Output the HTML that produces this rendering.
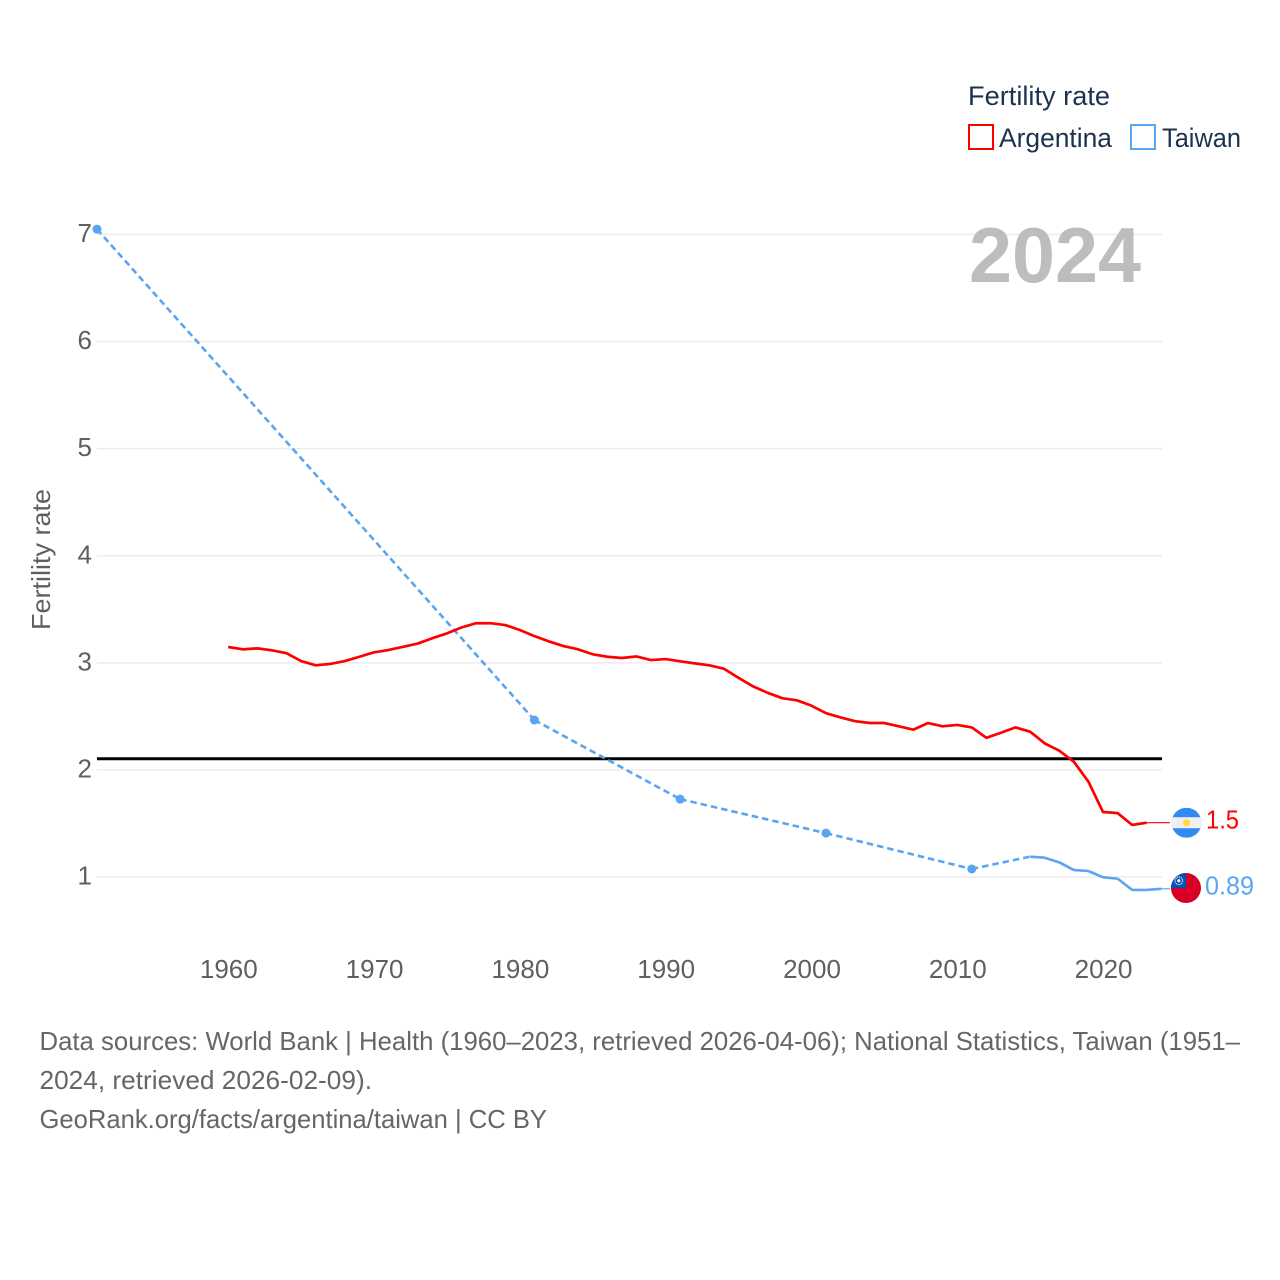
<!DOCTYPE html>
<html lang="en">
<head>
<meta charset="utf-8">
<title>Fertility rate: Argentina and Taiwan</title>
<style>
html,body{margin:0;padding:0;background:#fff;width:1280px;height:1280px;overflow:hidden}
svg{display:block;font-family:"Liberation Sans",sans-serif}
.tick{font-size:26px;fill:#5f5f5f}
.note{font-size:26px;fill:#666}
.leg{font-size:27px;fill:#1d3250}
</style>
</head>
<body>
<svg id="chart" width="1280" height="1280" viewBox="0 0 1280 1280" xmlns="http://www.w3.org/2000/svg">
  <rect x="0" y="0" width="1280" height="1280" fill="#fff"/>
  <defs>
    <clipPath id="flag-clip-ar"><circle id="clip-ar" cx="0" cy="0" r="15"/></clipPath>
    <clipPath id="flag-clip-tw"><circle id="clip-tw" cx="0" cy="0" r="15"/></clipPath>
  </defs>
  <g id="grid"></g>
  <g id="yticks"></g>
  <g id="xticks"></g>
  <text x="969" y="282" font-size="78" font-weight="700" fill="#bdbdbd" textLength="172" lengthAdjust="spacingAndGlyphs">2024</text>
  <text transform="translate(50,630) rotate(-90)" font-size="26" fill="#5f5f5f" textLength="141" lengthAdjust="spacingAndGlyphs">Fertility rate</text>
  <line id="refline" stroke="#000" stroke-width="3"/>
  <g id="series"></g>

  <g id="flag-ar">
    <g clip-path="url(#flag-clip-ar)">
      <rect x="-15" y="-15" width="30" height="30" fill="#338af3"/>
      <rect x="-15" y="-5.5" width="30" height="11" fill="#f0f0f0"/>
      <circle cx="0" cy="0" r="3.6" fill="#ffda44"/>
    </g>
  </g>
  <g id="flag-tw">
    <g clip-path="url(#flag-clip-tw)">
      <rect x="-15" y="-15" width="30" height="30" fill="#d80027"/>
      <rect x="-15" y="-15" width="15" height="15" fill="#0052b4"/>
      <circle cx="-7.2" cy="-7.2" r="3.8" fill="none" stroke="#f0f0f0" stroke-width="1.2" stroke-dasharray="1.2 0.8"/>
      <circle cx="-7.2" cy="-7.2" r="1.6" fill="#f0f0f0"/>
    </g>
  </g>
  <text id="label-ar" font-size="26" fill="#ff0000" textLength="33" lengthAdjust="spacingAndGlyphs">1.5</text>
  <text id="label-tw" font-size="26" fill="#5aa5f0" textLength="49" lengthAdjust="spacingAndGlyphs">0.89</text>

  <g>
    <text class="leg" x="968" y="105" textLength="142" lengthAdjust="spacingAndGlyphs">Fertility rate</text>
    <rect x="969" y="125" width="24" height="24" fill="#fff" stroke="#ff0000" stroke-width="2"/>
    <text class="leg" x="999" y="147" textLength="113" lengthAdjust="spacingAndGlyphs">Argentina</text>
    <rect x="1131" y="125" width="24" height="24" fill="#fff" stroke="#5aa5f0" stroke-width="2"/>
    <text class="leg" x="1162" y="147" textLength="79" lengthAdjust="spacingAndGlyphs">Taiwan</text>
  </g>

  <g>
    <text class="note" x="39.5" y="1050" textLength="1200.5" lengthAdjust="spacingAndGlyphs">Data sources: World Bank | Health (1960–2023, retrieved 2026-04-06); National Statistics, Taiwan (1951–</text>
    <text class="note" x="39.5" y="1089" textLength="332.5" lengthAdjust="spacingAndGlyphs">2024, retrieved 2026-02-09).</text>
    <text class="note" x="39.5" y="1128" textLength="507.5" lengthAdjust="spacingAndGlyphs">GeoRank.org/facts/argentina/taiwan | CC BY</text>
  </g>
</svg>
<script>
const xTickYears = [1960, 1970, 1980, 1990, 2000, 2010, 2020];
const yTickValues = [1, 2, 3, 4, 5, 6, 7];
const replacementLevel = 2.1;
const argentinaYears = [1960,1961,1962,1963,1964,1965,1966,1967,1968,1969,1970,1971,1972,1973,1974,1975,1976,1977,1978,1979,1980,1981,1982,1983,1984,1985,1986,1987,1988,1989,1990,1991,1992,1993,1994,1995,1996,1997,1998,1999,2000,2001,2002,2003,2004,2005,2006,2007,2008,2009,2010,2011,2012,2013,2014,2015,2016,2017,2018,2019,2020,2021,2022,2023];
const argentinaValues = [3.148,3.126,3.135,3.117,3.09,3.017,2.977,2.99,3.017,3.057,3.098,3.12,3.15,3.18,3.23,3.275,3.33,3.37,3.37,3.353,3.307,3.25,3.2,3.157,3.126,3.08,3.057,3.045,3.06,3.026,3.035,3.014,2.995,2.977,2.945,2.86,2.78,2.72,2.67,2.65,2.6,2.53,2.49,2.455,2.438,2.438,2.407,2.376,2.438,2.407,2.42,2.397,2.30,2.347,2.397,2.357,2.248,2.18,2.077,1.89,1.607,1.597,1.486,1.507];
const taiwanYears = [1951,1981,1991,2001,2011,2015,2016,2017,2018,2019,2020,2021,2022,2023,2024];
const taiwanValues = [7.05,2.466,1.727,1.41,1.075,1.19,1.18,1.137,1.065,1.056,0.997,0.985,0.879,0.879,0.89];
const argentinaEndLabel = "1.5";
const taiwanEndLabel = "0.89";

const NS = "http://www.w3.org/2000/svg";
const xScale = function (year) { return 228.2 + (year - 1960) * 14.58; };
const yScale = function (value) { return 877 - (value - 1) * 107.08; };
const xLeft = xScale(1951);
const xRight = 1162;
const RED = "#ff0000";
const BLUE = "#5aa5f0";

function make(tag, attrs, parent) {
  const el = document.createElementNS(NS, tag);
  for (const k in attrs) el.setAttribute(k, attrs[k]);
  parent.appendChild(el);
  return el;
}
function pathFrom(xs, ys) {
  return xs.map(function (yr, i) {
    return (i ? "L" : "M") + xScale(yr).toFixed(2) + " " + yScale(ys[i]).toFixed(2);
  }).join("");
}

const gridG = document.getElementById("grid");
const yTickG = document.getElementById("yticks");
const xTickG = document.getElementById("xticks");
const seriesG = document.getElementById("series");

yTickValues.forEach(function (v) {
  const line = make("line", {x1: xLeft, x2: xRight, y1: yScale(v), y2: yScale(v), stroke: "#ececec", "stroke-width": 1.5}, gridG);
  
  
  const t = make("text", {x: 92, y: yScale(v) + 7.5, "text-anchor": "end", class: "tick"}, yTickG);
  
  
  t.textContent = v;
});

xTickYears.forEach(function (yr) {
  const t = make("text", {x: xScale(yr) + 0.6, y: 978, "text-anchor": "middle", class: "tick"}, xTickG);
  
  
  t.textContent = yr;
});

const ref = document.getElementById("refline");
ref.setAttribute("x1", xLeft);
ref.setAttribute("x2", xRight);
ref.setAttribute("y1", yScale(replacementLevel) - 0.4);
ref.setAttribute("y2", yScale(replacementLevel) - 0.4);

/* Taiwan: gaps between non-consecutive years are dashed, consecutive runs are solid */
for (let i = 0; i < taiwanYears.length - 1; i++) {
  const gap = taiwanYears[i + 1] - taiwanYears[i] > 1;
  const seg = make("path", {
    d: pathFrom(taiwanYears.slice(i, i + 2), taiwanValues.slice(i, i + 2)),
    fill: "none", stroke: BLUE, "stroke-width": 2.6,
    "stroke-linejoin": "round",
    "stroke-dasharray": gap ? "6.5 4" : "none"
  }, seriesG);
  
  
}
taiwanYears.forEach(function (yr, i) {
  const prevGap = i === 0 || yr - taiwanYears[i - 1] > 1;
  const nextGap = i === taiwanYears.length - 1 || taiwanYears[i + 1] - yr > 1;
  if (prevGap && nextGap) {
    const dot = make("circle", {cx: xScale(yr), cy: yScale(taiwanValues[i]), r: 4.5, fill: BLUE}, seriesG);
    
    
  }
});

const arLine = make("path", {d: pathFrom(argentinaYears, argentinaValues), fill: "none", stroke: RED, "stroke-width": 2.7, "stroke-linejoin": "round"}, seriesG);



/* end connectors, flags and labels follow the last values */
const arLastY = yScale(argentinaValues[argentinaValues.length - 1]);
const twLastY = yScale(taiwanValues[taiwanValues.length - 1]);
const arConn = make("line", {x1: xScale(argentinaYears[argentinaYears.length - 1]), x2: 1170, y1: arLastY, y2: arLastY, stroke: RED, "stroke-width": 1.2}, seriesG);


const twConn = make("line", {x1: xScale(taiwanYears[taiwanYears.length - 1]), x2: 1170, y1: twLastY, y2: twLastY, stroke: BLUE, "stroke-width": 1.2}, seriesG);



document.getElementById("flag-ar").setAttribute("transform", "translate(1186.5," + arLastY + ")");
document.getElementById("flag-tw").setAttribute("transform", "translate(1186," + (twLastY - 0.8) + ")");
const la = document.getElementById("label-ar");
la.setAttribute("x", 1206);
la.setAttribute("y", arLastY + 6);
la.textContent = argentinaEndLabel;
const lt = document.getElementById("label-tw");
lt.setAttribute("x", 1205);
lt.setAttribute("y", twLastY + 5.5);
lt.textContent = taiwanEndLabel;
</script>
</body>
</html>
